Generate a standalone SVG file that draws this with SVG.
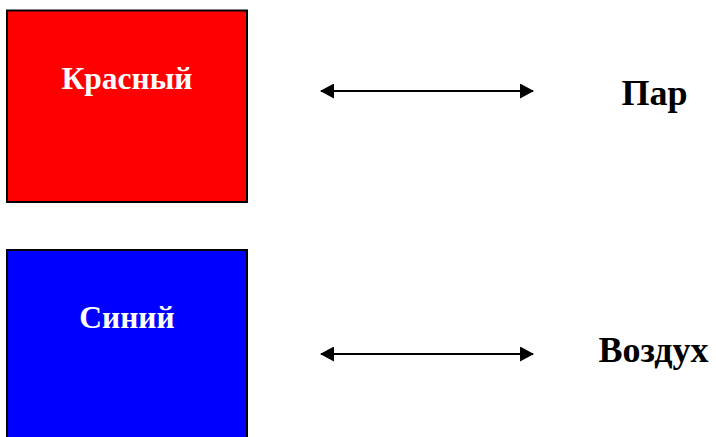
<svg xmlns="http://www.w3.org/2000/svg" width="716" height="437" viewBox="0 0 716 437">
<style>
.box{stroke:#000;stroke-width:2}
.lbl{font-family:"Liberation Serif","Times New Roman",serif;font-weight:bold}
.w{fill:#fff;font-size:31.5px}
.k{fill:#000;font-size:36px}
.conn{stroke:#000;stroke-width:2;fill:none;marker-start:url(#ah);marker-end:url(#ah)}
</style>
<defs>
<marker id="ah" viewBox="0 0 14 15" refX="13" refY="7.5" markerWidth="14" markerHeight="15" markerUnits="userSpaceOnUse" orient="auto-start-reverse">
<path d="M0,0 L14,7.5 L0,15 Z" fill="#000"/>
</marker>
</defs>
<rect width="716" height="437" fill="#fff"/>
<g id="node-red">
<rect class="box" x="7" y="10.5" width="240" height="191.5" fill="#ff0000"/>
<text class="lbl w" x="127" y="89" text-anchor="middle">Красный</text>
</g>
<g id="node-blue">
<rect class="box" x="7" y="250" width="240" height="200" fill="#0000ff"/>
<text class="lbl w" x="127" y="328" text-anchor="middle">Синий</text>
</g>
<g id="node-steam">
<text class="lbl k" x="654.5" y="105" text-anchor="middle">Пар</text>
</g>
<g id="node-air">
<text class="lbl k" x="653.5" y="362" text-anchor="middle">Воздух</text>
</g>
<g id="connectors">
<line class="conn" x1="321" y1="91" x2="533" y2="91"/>
<line class="conn" x1="321" y1="354" x2="533" y2="354"/>
</g>
</svg>
